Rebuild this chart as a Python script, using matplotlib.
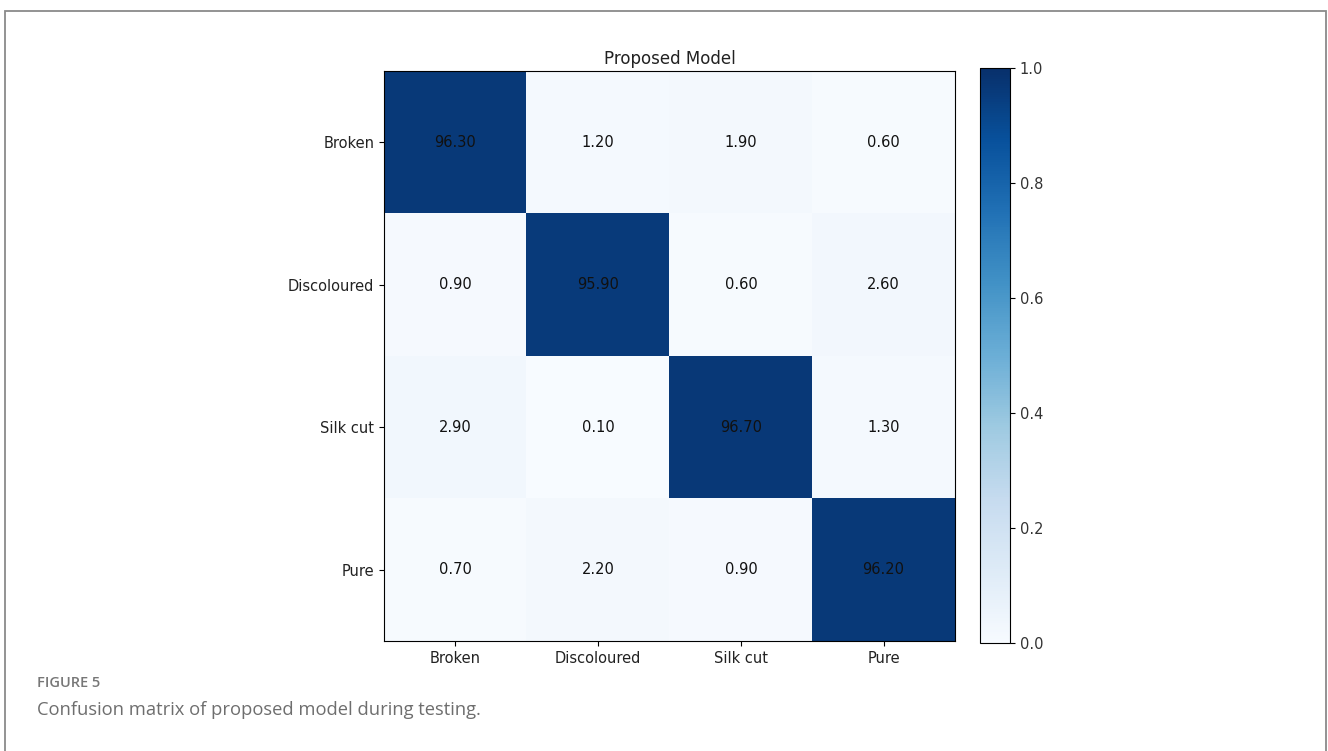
import numpy as np
import matplotlib
matplotlib.use("Agg")
import matplotlib.pyplot as plt
from matplotlib.patches import Rectangle

classes = ["Broken", "Discoloured", "Silk cut", "Pure"]
# row = true class, column = predicted class, in percent
cm_pct = np.array([
    [96.30, 1.20, 1.90, 0.60],
    [0.90, 95.90, 0.60, 2.60],
    [2.90, 0.10, 96.70, 1.30],
    [0.70, 2.20, 0.90, 96.20],
])

fig = plt.figure(figsize=(13.28, 7.51), dpi=100)

# outer frame of the figure panel
fig.patches.append(Rectangle((4.5 / 1328, -0.1), 1321 / 1328, 1.1 - 10.5 / 751,
                             transform=fig.transFigure, fill=False,
                             edgecolor="#8a8a8a", linewidth=1.3))

ax = fig.add_axes([384 / 1328, 1 - 641 / 751, 571 / 1328, 570 / 751])
cax = fig.add_axes([980 / 1328, 1 - 643 / 751, 30 / 1328, 575 / 751])

im = ax.imshow(cm_pct / 100, cmap="Blues", vmin=0, vmax=1, aspect="auto")
for i in range(len(classes)):
    for j in range(len(classes)):
        ax.text(j, i, "%.2f" % cm_pct[i, j], ha="center", va="center",
                fontsize=10.5, color="#111111")

ax.set_xticks(range(len(classes)))
ax.set_yticks(range(len(classes)))
ax.set_xticklabels(classes, fontsize=10.5, color="#222222")
ax.set_yticklabels(classes, fontsize=10.5, color="#222222")
ax.set_title("Proposed Model", fontsize=12, pad=5, color="#222222")

cb = fig.colorbar(im, cax=cax)
cb.set_ticks([0.0, 0.2, 0.4, 0.6, 0.8, 1.0])
cb.ax.tick_params(labelsize=10.5, labelcolor="#333333")

fig.text(37 / 1328, 1 - 683 / 751, "FIGURE 5", fontsize=10.5, color="#777777",
         family="Open Sans", fontweight="semibold", va="center")
fig.text(37 / 1328, 1 - 710 / 751, "Confusion matrix of proposed model during testing.",
         fontsize=13.2, color="#6e6e6e", family="Open Sans", va="center")

fig.savefig("out.png", dpi=100)
